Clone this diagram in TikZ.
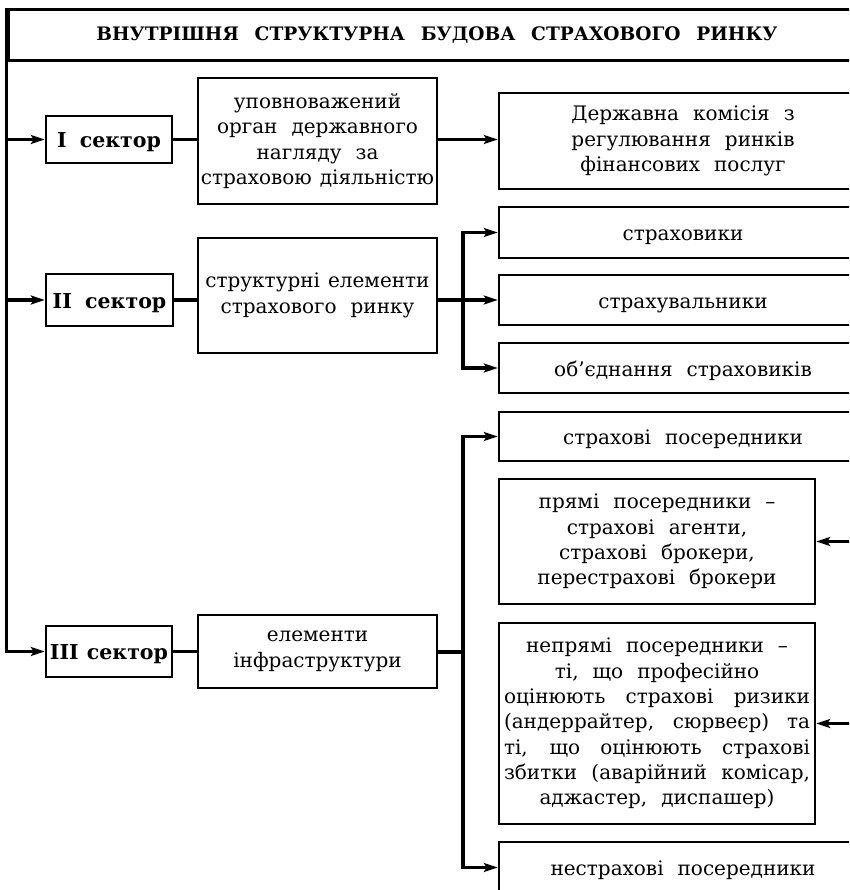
\documentclass[tikz,border=0pt]{standalone}
\usepackage{fontspec}
\setmainfont{DejaVu Serif}
\usetikzlibrary{arrows.meta}

% text styles
\newcommand\bodyfont{\fontsize{20}{25.3}\selectfont\spaceskip=0.7em plus 0.4em minus 0.1em\relax}
\newcommand\sectfont{\fontsize{20.5}{25}\selectfont\bfseries\spaceskip=0.65em\relax}
\newcommand\headfont{\fontsize{18.6}{22}\selectfont\bfseries\spaceskip=0.85em\relax}
% a line spread to the full width of its box
\newcommand\fl[1]{\makebox[306pt][s]{#1}}
% a line set with tighter word spacing
\newcommand\tight[1]{{\spaceskip=0.4em\relax #1}}

\tikzset{
  box/.style={draw, line width=2.4pt, align=center, inner sep=1pt, font=\bodyfont},
  one/.style={text height=16pt, text depth=0pt},
  sectbox/.style={draw, line width=2.4pt, align=center, inner sep=0pt, font=\sectfont,
                  text height=16pt, text depth=0pt},
  conn/.style={line width=3.6pt, line join=miter},
  tip/.tip={Stealth[length=14pt, width=9pt, inset=3pt]},
}

\begin{document}
\begin{tikzpicture}[x=1pt, y=-1pt]
\clip (0,0) rectangle (849,890);

% heading
\node[draw, line width=3pt, minimum width=858pt, minimum height=51pt,
      font=\headfont] (title) at (437,35.5) {ВНУТРІШНЯ СТРУКТУРНА БУДОВА СТРАХОВОГО РИНКУ};

% sectors
\node[sectbox, minimum width=126pt, minimum height=47pt] (s1) at (109,139.5) {I сектор};
\node[sectbox, minimum width=127pt, minimum height=52pt] (s2) at (109.5,300) {II сектор};
\node[sectbox, minimum width=126pt, minimum height=51pt] (s3) at (109,651.5) {\tight{III сектор}};

% second column
\node[box, minimum width=239pt, minimum height=126pt] (upov) at (317.5,141)
  {уповноважений\\орган державного\\нагляду за\\\tight{страховою діяльністю}};
\node[box, minimum width=239pt, minimum height=115pt] (struct) at (317.5,295.5)
  {\tight{структурні елементи}\\страхового ринку};
\node[box, minimum width=239pt, minimum height=73pt] (elem) at (317.5,651.5)
  {елементи\\інфраструктури};

% right column
\node[box, minimum width=368pt, minimum height=96pt] (derzh) at (683,141)
  {Державна комісія з\\регулювання ринків\\фінансових послуг};
\node[box, one, minimum width=368pt, minimum height=51pt] (insurer) at (683,232.5) {страховики};
\node[box, one, minimum width=368pt, minimum height=50pt] (insured) at (683,300) {страхувальники};
\node[box, one, minimum width=368pt, minimum height=50pt] (union) at (683,368) {об’єднання страховиків};
\node[box, one, minimum width=368pt, minimum height=49pt] (inter) at (683,436.5) {страхові посередники};
\node[box, minimum width=316pt, minimum height=125pt] (direct) at (657,541.5)
  {прямі посередники –\\страхові агенти,\\страхові брокери,\\перестрахові брокери};
\node[box, minimum width=316pt, minimum height=201pt] (indirect) at (657,723.5)
  {непрямі посередники –\\ті, що професійно\\\fl{оцінюють страхові ризики}\\\fl{(андеррайтер, сюрвеєр) та}\\\fl{ті, що оцінюють страхові}\\\fl{збитки (аварійний комісар,}\\аджастер, диспашер)};
\node[box, one, minimum width=368pt, minimum height=51pt] (noninsur) at (683,867.5) {нестрахові посередники};

% branch points
\coordinate (bx2) at (463,300);
\coordinate (bx3) at (463,652);
\coordinate (rd) at (875,541.5);
\coordinate (ri) at (875,723.5);

% main spine on the left
\draw[conn, -tip] (title.north west) |- (s3.west);
\draw[conn, -tip] (title.west |- s1.west) -- (s1.west);
\draw[conn, -tip] (title.west |- s2.west) -- (s2.west);

% sector I
\draw[conn] (s1.east) -- (s1.east -| upov.west);
\draw[conn, -tip] (upov.east |- s1.east) -- (derzh.west |- s1.east);

% sector II
\draw[conn] (s2.east) -- (s2.east -| struct.west);
\draw[conn, -tip] (struct.east |- bx2) -- (insured.west);
\draw[conn, tip-tip] (insurer.west) -| (bx2) |- (union.west);

% sector III
\draw[conn] (s3.east) -- (s3.east -| elem.west);
\draw[conn] (elem.east |- bx3) -- (bx3);
\draw[conn, tip-tip] (inter.west) -| (bx3) |- (noninsur.west);

% incoming links from the right
\draw[conn, -tip] (rd) -- (direct.east);
\draw[conn, -tip] (ri) -- (indirect.east);
\end{tikzpicture}
\end{document}
